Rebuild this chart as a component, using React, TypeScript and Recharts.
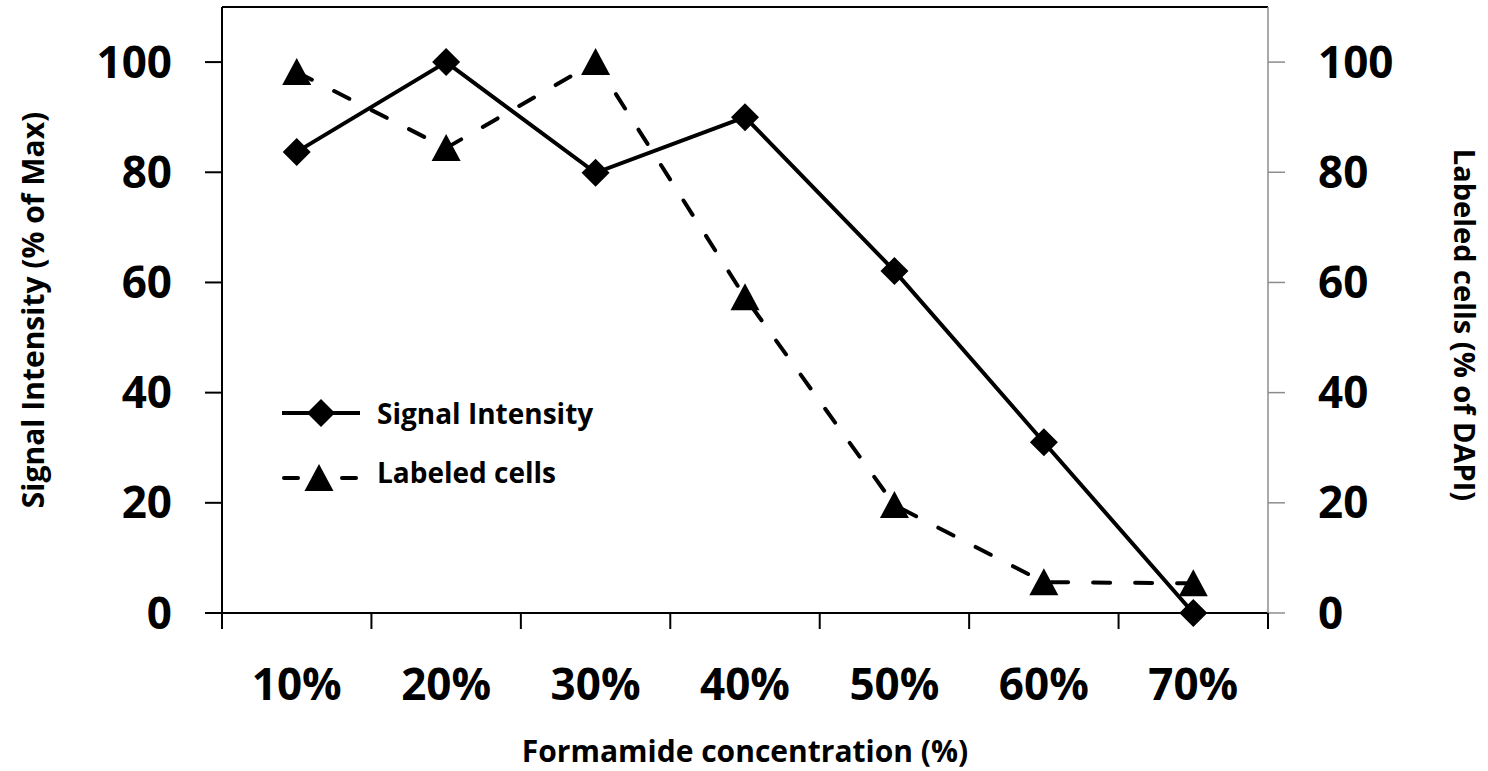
import React from 'react';
import { ComposedChart, Line, XAxis, YAxis, ReferenceLine, Legend } from 'recharts';

const categories = ['10%', '20%', '30%', '40%', '50%', '60%', '70%'];
const signalIntensity = [83.7, 100, 79.9, 90, 62.1, 31, 0];
const labeledCells = [98.2, 84.4, 100, 57.3, 19.6, 5.6, 5.4];
const yTicks = [0, 20, 40, 60, 80, 100];

const data = categories.map((c, i) => ({
  x: i + 0.5,
  category: c,
  signal: signalIntensity[i],
  labeled: labeledCells[i],
}));

const xTicks: number[] = [];
for (let i = 0; i <= categories.length; i++) {
  xTicks.push(i);
  if (i < categories.length) xTicks.push(i + 0.5);
}

const FONT = '"Open Sans", Lato, sans-serif';

const Diamond = (props: any) => {
  const { cx, cy, key } = props;
  if (cx == null || cy == null) return null;
  const r = 14;
  return (
    <path
      key={key}
      d={`M${cx},${cy - r} L${cx + r},${cy} L${cx},${cy + r} L${cx - r},${cy} Z`}
      fill="#000"
      stroke="none"
    />
  );
};

const Triangle = (props: any) => {
  const { cx, cy, key } = props;
  if (cx == null || cy == null) return null;
  return (
    <path
      key={key}
      d={`M${cx},${cy - 14} L${cx + 14.5},${cy + 13} L${cx - 14.5},${cy + 13} Z`}
      fill="#000"
      stroke="none"
    />
  );
};

const XTick = (props: any) => {
  const { x, y, payload } = props;
  const v = payload.value;
  if (Number.isInteger(v)) {
    return <line x1={x} y1={y} x2={x} y2={y + 16} stroke="#000" strokeWidth={2} />;
  }
  return (
    <text
      x={x}
      y={y + 70}
      textAnchor="middle"
      dominantBaseline="central"
      fill="#000"
      fontSize={44}
      fontWeight={700}
      fontFamily={FONT}
    >
      {categories[Math.floor(v)]}
    </text>
  );
};

const LegendContent = (props: any) => {
  const { payload } = props;
  const items = payload || [];
  return (
    <svg width={380} height={120} style={{ display: 'block' }}>
      {items.map((it: any, i: number) => {
        const isSignal = it.dataKey === 'signal';
        const cy = isSignal ? 33 : 98;
        const ty = isSignal ? 33 : 92;
        return (
          <g key={i}>
            {isSignal ? (
              <g>
                <line x1={2} y1={cy} x2={80} y2={cy} stroke="#000" strokeWidth={4} />
                <Diamond cx={41} cy={cy} />
              </g>
            ) : (
              <g>
                <line x1={4} y1={cy} x2={18} y2={cy} stroke="#000" strokeWidth={4} strokeLinecap="round" />
                <line x1={62} y1={cy} x2={76} y2={cy} stroke="#000" strokeWidth={4} strokeLinecap="round" />
                <Triangle cx={39} cy={cy} />
              </g>
            )}
            <text
              x={97}
              y={ty}
              dominantBaseline="central"
              fill="#000"
              fontSize={28}
              fontWeight={700}
              fontFamily={FONT}
            >
              {it.value}
            </text>
          </g>
        );
      })}
    </svg>
  );
};

const LeftTitle = (props: any) => {
  const { x, y, height } = props.viewBox;
  const cx = x + 32;
  const cy = y + height / 2;
  return (
    <text
      x={cx}
      y={cy}
      transform={`rotate(-90 ${cx} ${cy})`}
      textAnchor="middle"
      dominantBaseline="central"
      fill="#000"
      fontSize={30}
      fontWeight={700}
      fontFamily={FONT}
    >
      Signal Intensity (% of Max)
    </text>
  );
};

const RightTitle = (props: any) => {
  const { x, y, height } = props.viewBox;
  const cx = x + 197;
  const cy = y + height / 2 + 15;
  return (
    <text
      x={cx}
      y={cy}
      transform={`rotate(90 ${cx} ${cy})`}
      textAnchor="middle"
      dominantBaseline="central"
      fill="#000"
      fontSize={29}
      fontWeight={700}
      fontFamily={FONT}
    >
      Labeled cells (% of DAPI)
    </text>
  );
};

const BottomTitle = (props: any) => {
  const { x, y, width } = props.viewBox;
  return (
    <text
      x={x + width / 2}
      y={y + 137}
      textAnchor="middle"
      dominantBaseline="central"
      fill="#000"
      fontSize={30}
      fontWeight={700}
      fontFamily={FONT}
    >
      Formamide concentration (%)
    </text>
  );
};

export default function App() {
  return (
    <div style={{ position: 'absolute', left: 0, top: 0, width: 1488, height: 771, background: '#fff' }}>
      <ComposedChart width={1488} height={771} data={data} margin={{ top: 7, right: 0, bottom: 0, left: 0 }}>
        <XAxis
          xAxisId="x"
          type="number"
          dataKey="x"
          domain={[0, categories.length]}
          ticks={xTicks}
          interval={0}
          height={158}
          tickLine={false}
          tickSize={0}
          tickMargin={0}
          axisLine={{ stroke: '#000', strokeWidth: 2 }}
          tick={<XTick />}
          label={{ content: <BottomTitle /> }}
        />
        <YAxis
          yAxisId="left"
          orientation="left"
          domain={[0, 110]}
          ticks={yTicks}
          width={222}
          tickSize={17}
          tickMargin={33}
          stroke="#000"
          axisLine={{ stroke: '#000', strokeWidth: 2 }}
          tickLine={{ stroke: '#000', strokeWidth: 2 }}
          tick={{ fill: '#000', fontSize: 44, fontWeight: 700, fontFamily: FONT }}
          label={{ content: <LeftTitle /> }}
        />
        <YAxis
          yAxisId="right"
          orientation="right"
          domain={[0, 110]}
          ticks={yTicks}
          width={220}
          tickSize={17}
          tickMargin={33}
          stroke="#8c8c8c"
          axisLine={{ stroke: '#8c8c8c', strokeWidth: 1.5 }}
          tickLine={{ stroke: '#8c8c8c', strokeWidth: 1.5 }}
          tick={{ fill: '#000', fontSize: 44, fontWeight: 700, fontFamily: FONT }}
          label={{ content: <RightTitle /> }}
        />
        <ReferenceLine xAxisId="x" yAxisId="left" y={110} stroke="#000" strokeWidth={2} />
        <Legend
          layout="vertical"
          align="center"
          verticalAlign="middle"
          content={<LegendContent />}
          wrapperStyle={{ left: 280, top: 380, width: 380, height: 120 }}
        />
        <Line
          xAxisId="x"
          yAxisId="left"
          name="Signal Intensity"
          dataKey="signal"
          stroke="#000"
          strokeWidth={4}
          dot={Diamond}
          activeDot={false}
          isAnimationActive={false}
        />
        <Line
          xAxisId="x"
          yAxisId="right"
          name="Labeled cells"
          dataKey="labeled"
          stroke="#000"
          strokeWidth={4}
          strokeDasharray="17 25"
          strokeLinecap="round"
          dot={Triangle}
          activeDot={false}
          isAnimationActive={false}
        />
      </ComposedChart>
    </div>
  );
}
